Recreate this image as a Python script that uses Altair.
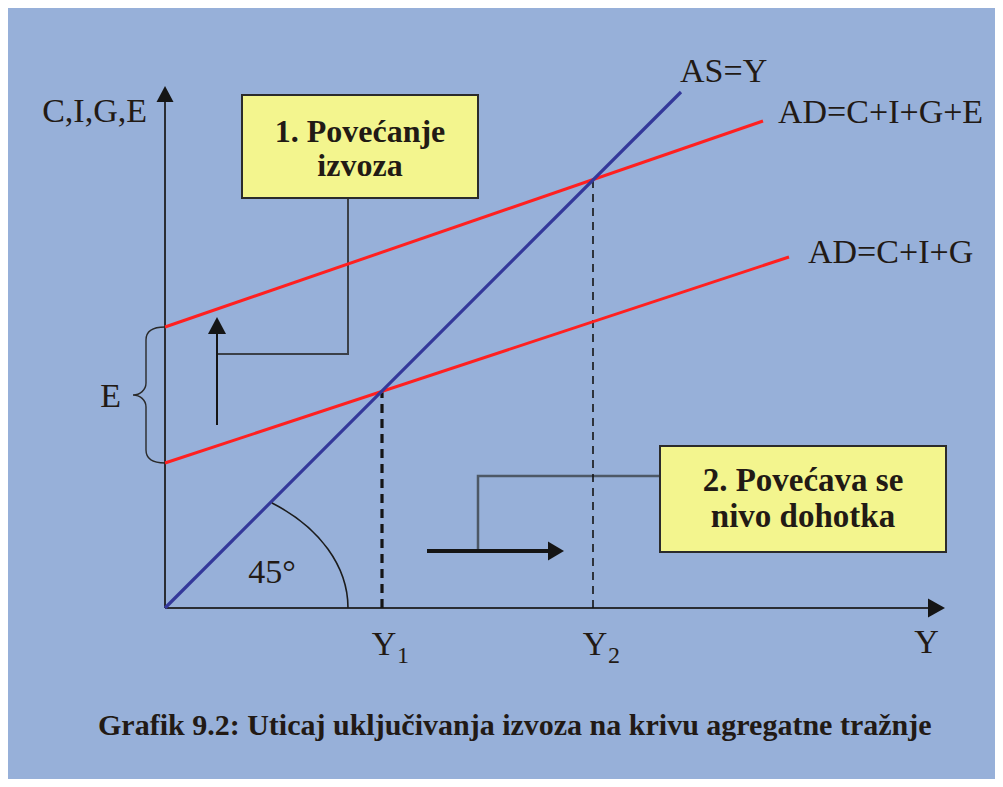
import altair as alt
import pandas as pd

# ---------------- data (chart units, origin = where the axes meet) ----------------
AS_X = [0, 516]            # AS = Y (45 degree line)
AS_Y = [0, 516]
AD_X = [0, 624]            # AD = C+I+G
AD_Y = [145, 351]
ADE_X = [0, 598]           # AD = C+I+G+E
ADE_Y = [281, 487]
EQ_X = [217, 428]          # Y1, Y2 (equilibria)
EQ_Y = [217, 428]
Y_AXIS_TOP = 506
X_AXIS_END = 764

CURVE_LABELS = ["AS=Y", "AD=C+I+G+E", "AD=C+I+G"]
AXIS_LABELS = ["C,I,G,E", "Y"]
EQ_LABELS = ["Y", "Y"]
EQ_SUBS = ["1", "2"]
BOX_TEXT_1 = ["1. Povećanje", "izvoza"]
BOX_TEXT_2 = ["2. Povećava se", "nivo dohotka"]
CAPTION = "Grafik 9.2: Uticaj uključivanja izvoza na krivu agregatne tražnje"

# callout boxes and their connectors (chart units)
BOX1 = dict(x=77, x2=313, y=410, y2=513)
BOX2 = dict(x=495, x2=781, y=56, y2=162)
CONN1_X = [183, 183, 52]
CONN1_Y = [410, 254, 254]
CONN2_X = [495, 313, 313]
CONN2_Y = [132, 132, 57]
UP_ARROW_X = [52, 52]
UP_ARROW_Y = [183, 274]
RIGHT_ARROW_X = [262, 383]
RIGHT_ARROW_Y = [57, 57]

# ---------------- styling ----------------
BG = "#97b0d9"
RED = "#ff2020"
NAVY = "#34389a"
INK = "#221a15"
AXIS = "#2a2d33"
YELLOW = "#f3f58e"
FONT = "Liberation Serif"

XS = alt.Scale(domain=[-157, 830], nice=False, zero=False)
YS = alt.Scale(domain=[-171, 600], nice=False, zero=False)


def X(f="x"):
    return alt.X(f"{f}:Q", scale=XS, axis=None)


def Y(f="y"):
    return alt.Y(f"{f}:Q", scale=YS, axis=None)


def pts(xs, ys):
    return pd.DataFrame({"x": xs, "y": ys, "i": list(range(len(xs)))})


def line(xs, ys, **mk):
    return alt.Chart(pts(xs, ys)).mark_line(**mk).encode(x=X(), y=Y(), order="i:Q")


def symbol(x, y, path, **mk):
    # custom SVG path, size=4 -> path units are pixels
    return alt.Chart(pd.DataFrame({"x": [x], "y": [y]})).mark_point(
        shape=path, size=4, opacity=1, **mk
    ).encode(x=X(), y=Y())


def text(t, x, y, size=34, weight="normal", align="left"):
    return alt.Chart(pd.DataFrame({"x": [x], "y": [y], "t": [t]})).mark_text(
        font=FONT, fontSize=size, fontWeight=weight, align=align,
        baseline="alphabetic", color=INK
    ).encode(x=X(), y=Y(), text="t:N")


layers = []

# connectors (behind the curves)
layers.append(line(CONN1_X, CONN1_Y, color="#3b4048", strokeWidth=2))
layers.append(line(CONN2_X, CONN2_Y, color="#4d5866", strokeWidth=2.5))

# axes
layers.append(alt.Chart(pd.DataFrame({"x": [0], "y": [0], "y2": [Y_AXIS_TOP]}))
              .mark_rule(color=AXIS, strokeWidth=2)
              .encode(x=X(), y=Y(), y2="y2:Q"))
layers.append(alt.Chart(pd.DataFrame({"x": [0], "x2": [X_AXIS_END], "y": [0]}))
              .mark_rule(color=AXIS, strokeWidth=2)
              .encode(x=X(), x2="x2:Q", y=Y()))
layers.append(symbol(0, 514, "M 0 -8 L 8.5 8 L -8.5 8 Z", filled=True, color="#151515", strokeWidth=0))
layers.append(symbol(771.5, 0, "M 8.5 0 L -8.5 -9.5 L -8.5 9.5 Z", filled=True, color="#151515", strokeWidth=0))

# equilibrium drop lines
layers.append(alt.Chart(pd.DataFrame({"x": [EQ_X[0]], "y": [0], "y2": [EQ_Y[0]]}))
              .mark_rule(color="#151515", strokeWidth=3.2, strokeDash=[9, 6])
              .encode(x=X(), y=Y(), y2="y2:Q"))
layers.append(alt.Chart(pd.DataFrame({"x": [EQ_X[1]], "y": [0], "y2": [EQ_Y[1]]}))
              .mark_rule(color="#151515", strokeWidth=1.6, strokeDash=[8, 6])
              .encode(x=X(), y=Y(), y2="y2:Q"))

# curves
layers.append(line(AD_X, AD_Y, color=RED, strokeWidth=3))
layers.append(line(ADE_X, ADE_Y, color=RED, strokeWidth=3))
layers.append(line(AS_X, AS_Y, color=NAVY, strokeWidth=3.2))

# 45 degree arc and E brace
layers.append(symbol(0, 0, "M 183 0 C 183 -41.6 154.7 -80.6 107 -105",
                     filled=False, color="#1c1c1c", strokeWidth=1.6))
layers.append(symbol(0, 213,
                     "M 0 -68 C -12 -68 -19 -64 -19 -55 L -19 -12 C -19 -5 -25 0 -32 0 "
                     "C -25 0 -19 5 -19 12 L -19 55 C -19 64 -12 68 0 68",
                     filled=False, color="#2a2a2a", strokeWidth=1.4))

# movement arrows
layers.append(line(UP_ARROW_X, UP_ARROW_Y, color="#151515", strokeWidth=2))
layers.append(symbol(52, 282.5, "M 0 -8.5 L 9 8.5 L -9 8.5 Z", filled=True, color="#151515", strokeWidth=0))
layers.append(line(RIGHT_ARROW_X, RIGHT_ARROW_Y, color="#151515", strokeWidth=4))
layers.append(symbol(391, 57, "M 8 0 L -8 -9.5 L -8 9.5 Z", filled=True, color="#151515", strokeWidth=0))

# callout boxes
for b in (BOX1, BOX2):
    layers.append(alt.Chart(pd.DataFrame({k: [v] for k, v in b.items()}))
                  .mark_rect(fill=YELLOW, stroke="#2b2b2b", strokeWidth=2)
                  .encode(x=X(), x2="x2:Q", y=Y(), y2="y2:Q"))

# texts
layers.append(text(AXIS_LABELS[0], -18, 486, align="right"))
layers.append(text(AXIS_LABELS[1], 761.5, -45, align="center"))
layers.append(text(CURVE_LABELS[0], 515, 526))
layers.append(text(CURVE_LABELS[1], 613, 485))
layers.append(text(CURVE_LABELS[2], 643, 345))
layers.append(text("E", -44, 201, align="right"))
layers.append(text("45°", 107, 25, align="center"))
for ex, lab, sub in zip(EQ_X, EQ_LABELS, EQ_SUBS):
    layers.append(text(lab, ex + 2, -47, align="center"))
    layers.append(text(sub, ex + 15, -55, size=24))
layers.append(text(BOX_TEXT_1[0], 195, 466, size=32, weight="bold", align="center"))
layers.append(text(BOX_TEXT_1[1], 195, 432, size=32, weight="bold", align="center"))
layers.append(text(BOX_TEXT_2[0], 638, 117, size=33, weight="bold", align="center"))
layers.append(text(BOX_TEXT_2[1], 638, 81, size=33, weight="bold", align="center"))
layers.append(text(CAPTION, -67, -127, size=30, weight="bold"))

chart = alt.layer(*layers).properties(
    width=987, height=771, padding=0, background=BG
).configure_view(stroke=None)

chart.save("out.html", embed_options={"renderer": "svg", "actions": False})
